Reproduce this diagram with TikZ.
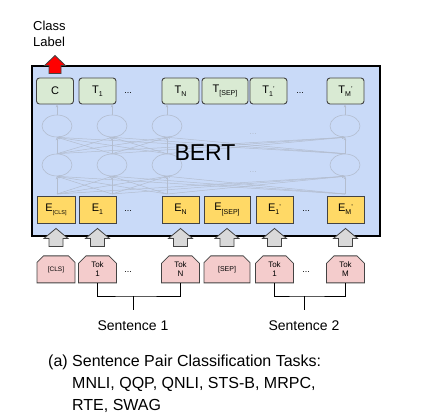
\documentclass[tikz,border=0pt]{standalone}
\usepackage{fontspec}
\setmainfont{Liberation Sans}
\usetikzlibrary{positioning, arrows.meta, calc, shapes.misc, shapes.geometric}
\definecolor{bertblue}{HTML}{C9DAF8}
\definecolor{outgreen}{HTML}{D9EAD3}
\definecolor{embyellow}{HTML}{FFD966}
\definecolor{tokpink}{HTML}{F4CCCC}
\definecolor{edgegray}{HTML}{434343}
\definecolor{netgray}{HTML}{B3BDCF}
\definecolor{fatgray}{HTML}{D9D9D9}
\newcommand\lsub[2][7]{\raisebox{-0.55ex}{\fontsize{#1}{#1}\selectfont #2}}
\newcommand\lprime{\raisebox{0.35ex}{\fontsize{7}{7}\selectfont '}}
% fat block arrow: base point, tip point, fill, shaft half width, head half width
\newcommand\fatup[5]{%
  \path let \p1=#1, \p2=#2 in [draw=edgegray, fill=#3, line width=0.8pt]
    (\x1-#4,\y1) -- (\x1+#4,\y1) -- (\x1+#4,\y2-10pt) -- (\x1+#5,\y2-10pt)
    -- (\x1,\y2) -- (\x1-#5,\y2-10pt) -- (\x1-#4,\y2-10pt) -- cycle;}
\tikzset{
  bertbox/.style={draw, line width=2pt, fill=bertblue, minimum width=348pt, minimum height=170pt, inner sep=0pt},
  outbox/.style={draw=edgegray, fill=outgreen, rounded corners=3pt, line width=0.9pt, minimum height=26pt, minimum width=37pt, inner sep=0pt, font=\fontsize{11}{11}\selectfont},
  embbox/.style={draw=edgegray, fill=embyellow, line width=0.9pt, minimum height=27pt, minimum width=38pt, inner sep=0pt, font=\fontsize{11}{11}\selectfont},
  tokbox/.style={chamfered rectangle, chamfered rectangle corners={north west, north east}, chamfered rectangle xsep=4pt, draw=edgegray, fill=tokpink, line width=0.8pt, minimum height=27pt, minimum width=38pt, inner sep=0pt, align=center, font=\fontsize{8}{9}\selectfont},
  neuron/.style={ellipse, draw=netgray, line width=0.6pt, minimum width=30pt, minimum height=22pt, inner sep=0pt},
  netline/.style={draw=netgray, line width=0.5pt, -{Stealth[length=3pt, width=2.5pt]}},
  dots/.style={font=\fontsize{9}{9}\selectfont, inner sep=0pt},
  bracket/.style={draw, line width=0.9pt},
  lbl/.style={font=\fontsize{14}{14}\selectfont}
}
\begin{document}
\begin{tikzpicture}[x=1pt, y=-1pt, node distance=32pt and 4pt]
\useasboundingbox (0,0) rectangle (439,420);
\node[bertbox] (bert) at (206,151) {};
% output row
\node[outbox] (c) at (55,91) {C};
\node[outbox] (t1) at (97.5,91) {T\lsub{1}};
\node[dots] (tdots1) at (128,93) {...};
\node[outbox] (tn) at (180.5,91) {T\lsub{N}};
\node[outbox, minimum width=46pt] (tsep) at (225,91) {T\lsub{[SEP]}};
\node[outbox] (t1p) at (268.5,91) {T\lsub{1}\lprime};
\node[dots] (tdots2) at (300,93) {...};
\node[outbox] (tmp) at (345.5,91) {T\lsub{M}\lprime};
% embedding row
\node[embbox] (ecls) at (56,209.5) {E\lsub[5.5]{[CLS]}};
\node[embbox, minimum width=37pt] (e1) at (97.5,209.5) {E\lsub{1}};
\node[dots] (edots1) at (128,211) {...};
\node[embbox, minimum width=37pt] (en) at (180.5,209.5) {E\lsub{N}};
\node[embbox, minimum width=46pt] (esep) at (227,209.5) {E\lsub{[SEP]}};
\node[embbox, minimum width=37pt] (e1p) at (274.5,209.5) {E\lsub{1}\lprime};
\node[dots] (edots2) at (306,211) {...};
\node[embbox, minimum width=37pt] (emp) at (345.5,209.5) {E\lsub{M}\lprime};
% hidden layers
\foreach \nx [count=\k] in {57,112,167,345} {
  \node[neuron] (lo\k) at (\nx,165) {};
  \node[neuron] (up\k) at (\nx,126) {};
  \coordinate (in\k) at (\nx,194);
}
\foreach \i in {1,...,4} \foreach \j in {1,...,4} {
  \draw[netline] (in\i) -- (lo\j.south);
  \draw[netline] (lo\i.north) -- (up\j.south);
}
\draw[netline] (up1.north) -- (up1.north |- c.south);
\draw[netline] (up2.north) -- (up2.north |- t1.south);
\draw[netline] (up3.north) -- (up3.north |- tn.south);
\draw[netline] (up4.north) -- (up4.north |- tmp.south);
\node[dots, text=netgray] (hdots1) at (253,134) {...};
\node[dots, text=netgray] (hdots2) at (253,172) {...};
\node[font=\fontsize{23}{23}\selectfont] (berttxt) at (205,152.5) {BERT};
% input tokens
\node[tokbox, below=of ecls, font=\fontsize{6.5}{7}\selectfont] (tcls) {[CLS]};
\node[tokbox, below=of e1] (tok1) {Tok\\1};
\node[dots] (kdots1) at (128,272) {...};
\node[tokbox, below=of en] (tokn) {Tok\\N};
\node[tokbox, below=of esep, minimum width=46pt, font=\fontsize{7}{8}\selectfont] (tsp) {[SEP]};
\node[tokbox, below=of e1p] (tok1p) {Tok\\1};
\node[dots] (kdots2) at (306,272) {...};
\node[tokbox, below=of emp] (tokm) {Tok\\M};
% block arrows
\fatup{($(tcls.north)+(0,-9)$)}{($(ecls.south)+(0,5)$)}{fatgray}{7pt}{12pt}
\fatup{($(tok1.north)+(0,-9)$)}{($(e1.south)+(0,5)$)}{fatgray}{7pt}{12pt}
\fatup{($(tokn.north)+(0,-9)$)}{($(en.south)+(0,5)$)}{fatgray}{7pt}{12pt}
\fatup{($(tsp.north)+(0,-9)$)}{($(esep.south)+(0,5)$)}{fatgray}{7pt}{12pt}
\fatup{($(tok1p.north)+(0,-9)$)}{($(e1p.south)+(0,5)$)}{fatgray}{7pt}{12pt}
\fatup{($(tokm.north)+(0,-9)$)}{($(emp.south)+(0,5)$)}{fatgray}{7pt}{12pt}
% class label
\node[anchor=north west, align=left, inner sep=0pt, font=\fontsize{13}{16}\selectfont] (label) at (33,20.5) {Class\\Label};
\fatup{($(c.north)+(0,-4)$)}{($(c.north)+(0,-22)$)}{red}{6pt}{10.5pt}
% sentences
\coordinate (b1) at (133,296);
\coordinate (b2) at (304,296);
\draw[bracket] (tok1.south) |- (b1) -| (tokn.south);
\draw[bracket] (tok1p.south) |- (b2) -| (tokm.south);
\node[lbl] (sent1) at (133,326) {Sentence 1};
\node[lbl] (sent2) at (304,326) {Sentence 2};
\draw[bracket] (b1) -- ++(0,14);
\draw[bracket] (b2) -- ++(0,14);
% caption
\node[anchor=north west, align=left, inner sep=0pt, font=\fontsize{16}{22}\selectfont] (caption) at (48,355) {(a) Sentence Pair Classification Tasks:\\\hspace*{24pt}MNLI, QQP, QNLI, STS-B, MRPC,\\\hspace*{24pt}RTE, SWAG};
\end{tikzpicture}
\end{document}
